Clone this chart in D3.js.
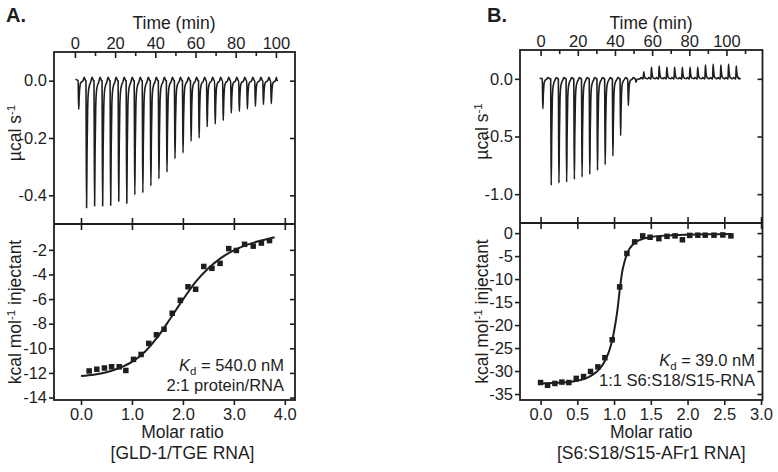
<!DOCTYPE html>
<html><head><meta charset="utf-8">
<script src="https://cdn.jsdelivr.net/npm/d3@7"></script>
<style>
body{margin:0;background:#fff}
svg{display:block}
text{font-family:"Liberation Sans",Arial,Helvetica,sans-serif;fill:#1e1e1e}
</style>
</head><body>
<svg id="c" width="778" height="472"></svg>
<script>
// ---------------- DATA ----------------
const timeTicks = [0, 20, 40, 60, 80, 100];
const timeMinorTicks = [10, 30, 50, 70, 90, 110];

// Panel A raw thermogram: injection times (min) and peak heights (µcal/s)
const injTimesA = [1.6, 5.5, 9.5, 13.5, 17.5, 21.5, 25.5, 29.5, 33.5, 37.5, 41.5, 45.5, 49.5,
  53.5, 57.5, 61.5, 65.5, 69.5, 73.5, 77.5, 81.5, 85.5, 89.5, 93.5, 97.4];
const injPeaksA = [-0.10, -0.443, -0.437, -0.437, -0.435, -0.421, -0.428, -0.398, -0.391, -0.367,
  -0.342, -0.319, -0.272, -0.252, -0.211, -0.200, -0.161, -0.151, -0.139, -0.113, -0.107,
  -0.099, -0.089, -0.083, -0.080];
const rawTicksA = [0.0, -0.2, -0.4];

// Panel A integrated heats
const molarA = [0.16, 0.31, 0.46, 0.60, 0.75, 0.88, 1.03, 1.18, 1.33, 1.48, 1.63, 1.79,
  1.95, 2.10, 2.25, 2.41, 2.57, 2.73, 2.90, 3.05, 3.21, 3.38, 3.54, 3.70];
const heatA = [-11.84, -11.7, -11.6, -11.5, -11.5, -11.8, -10.9, -10.5, -9.6, -8.9, -8.45, -7.15,
  -6.1, -5.0, -5.2, -3.35, -3.5, -3.1, -1.9, -2.05, -1.55, -1.7, -1.45, -1.25];
const fitMolarA = [0.0, 0.25, 0.5, 0.75, 1.0, 1.25, 1.5, 1.75, 2.0, 2.25, 2.5, 2.75, 3.0, 3.25, 3.5, 3.8];
const fitHeatA = [-12.25, -12.15, -11.95, -11.6, -11.1, -10.3, -9.1, -7.6, -6.05, -4.6, -3.5, -2.65, -2.05, -1.6, -1.28, -0.97];
const molarTicksA = [0.0, 1.0, 2.0, 3.0, 4.0];
const heatTicksA = [-2, -4, -6, -8, -10, -12, -14];

// Panel B raw thermogram
const injTimesB = [0.9, 5.4, 9.55, 13.7, 17.85, 22.0, 26.15, 30.3, 34.45, 38.6, 42.75, 46.9,
  51.05, 55.2, 59.35, 63.5, 67.65, 71.8, 75.95, 80.1, 84.25, 88.4, 92.55, 96.7, 100.85, 105.0];
const injPeaksB = [-0.26, -0.923, -0.903, -0.894, -0.871, -0.851, -0.828, -0.793, -0.744, -0.669,
  -0.493, -0.231, -0.03, 0.06, 0.10, 0.11, 0.10, 0.10, 0.10, 0.10, 0.10, 0.12, 0.125, 0.12, 0.125, 0.11];
const rawTicksB = [0.0, -0.5, -1.0];

// Panel B integrated heats
const molarB = [0.0, 0.095, 0.195, 0.29, 0.385, 0.485, 0.585, 0.68, 0.78, 0.875, 0.975, 1.076,
  1.175, 1.28, 1.39, 1.49, 1.61, 1.72, 1.83, 1.93, 2.03, 2.14, 2.24, 2.36, 2.48, 2.59];
const heatB = [-32.5, -33.1, -32.7, -32.4, -32.5, -31.6, -31.2, -30.1, -29.1, -27.1, -23.2, -11.7,
  -4.43, -1.9, -0.6, -0.9, -1.2, -0.7, -0.6, -1.45, -0.5, -0.45, -0.45, -0.45, -0.4, -0.6];
const fitMolarB = [0.0, 0.3, 0.5, 0.6, 0.7, 0.8, 0.875, 0.93, 0.975, 1.02, 1.05, 1.076, 1.11,
  1.15, 1.2, 1.25, 1.3, 1.4, 1.5, 1.75, 2.0, 2.3, 2.6];
const fitHeatB = [-32.7, -32.5, -32.1, -31.7, -30.9, -29.6, -27.8, -25.8, -23.3, -19.5, -16.2, -12.5,
  -8.5, -5.8, -3.7, -2.6, -1.9, -1.2, -0.85, -0.5, -0.35, -0.25, -0.2];
const molarTicksB = [0.0, 0.5, 1.0, 1.5, 2.0, 2.5, 3.0];
const heatTicksB = [0, -5, -10, -15, -20, -25, -30, -35];

// ---------------- DRAW ----------------
const svg = d3.select('#c');
const INK = '#1e1e1e';
const TICK_FS = 16.5, TITLE_FS = 17.5, ANN_FS = 16.5;

// peak template: [offset in min, fraction of peak height]
const shape = [[0, 0], [0.12, 0.45], [0.3, 1], [0.55, 0.55], [0.85, 0.22], [1.2, 0.09], [1.7, 0.04], [2.4, 0.01]];

function buildTrace(times, peaks, tStart, tEnd) {
  const pts = [[tStart, 0.005]];
  times.forEach((t, i) => {
    const p = peaks[i];
    shape.forEach(([dt, f]) => pts.push([t + dt, p * f]));
    const next = i < times.length - 1 ? times[i + 1] : tEnd;
    pts.push([Math.min(next - 0.6, t + 3.0), 0.012]);
    pts.push([next - 0.15, 0.0]);
  });
  pts.push([tEnd, 0.002]);
  return pts;
}

function panel(o) {
  const {L, R, T, M, B} = o.box;
  const g = svg.append('g');
  const xt = d3.scaleLinear().domain(o.timeDom).range([L, R]);
  const yr = d3.scaleLinear().domain(o.rawDom).range([M, T]);
  const xm = d3.scaleLinear().domain(o.molarDom).range([L, R]);
  const yk = d3.scaleLinear().domain(o.heatDom).range([B, M]);

  const styleAxis = sel => {
    sel.select('.domain').remove();
    sel.selectAll('.tick line').attr('stroke', INK).attr('stroke-width', 1.6);
    sel.selectAll('.tick text').attr('font-size', TICK_FS).attr('fill', INK)
      .attr('font-family', '"Liberation Sans",Arial,sans-serif');
  };

  // top time axis
  g.append('g').attr('transform', `translate(0,${T})`)
    .call(d3.axisTop(xt).tickValues(o.timeTicks).tickSize(-6).tickPadding(3).tickFormat(d3.format('d')))
    .call(styleAxis);
  g.append('g').attr('transform', `translate(0,${T})`)
    .call(d3.axisTop(xt).tickValues(o.timeMinor.filter(v => xt(v) <= R - 2)).tickSize(-4).tickFormat(''))
    .call(styleAxis);
  // raw left/right
  g.append('g').attr('transform', `translate(${L},0)`)
    .call(d3.axisLeft(yr).tickValues(o.rawTicks).tickSize(5).tickPadding(2).tickFormat(d => d.toFixed(1)))
    .call(styleAxis);
  g.append('g').attr('transform', `translate(${R},0)`)
    .call(d3.axisRight(yr).tickValues(o.rawTicks).tickSize(-5).tickFormat(''))
    .call(styleAxis);
  // divider ticks
  g.append('g').attr('transform', `translate(0,${M})`)
    .call(d3.axisBottom(xm).tickValues(o.molarTicks).tickSize(-6).tickFormat(''))
    .call(styleAxis);
  g.append('g').attr('transform', `translate(0,${M})`)
    .call(d3.axisTop(xm).tickValues(o.molarTicks).tickSize(-6).tickFormat(''))
    .call(styleAxis);
  // bottom axis
  g.append('g').attr('transform', `translate(0,${B})`)
    .call(d3.axisBottom(xm).tickValues(o.molarTicks).tickSize(5).tickPadding(3).tickFormat(d => d.toFixed(1)))
    .call(styleAxis);
  // heat left/right
  g.append('g').attr('transform', `translate(${L},0)`)
    .call(d3.axisLeft(yk).tickValues(o.heatTicks).tickSize(5).tickPadding(2).tickFormat(d => String(d)))
    .call(styleAxis);
  g.append('g').attr('transform', `translate(${R},0)`)
    .call(d3.axisRight(yk).tickValues(o.heatTicks).tickSize(-5).tickFormat(''))
    .call(styleAxis);

  // frames
  g.append('rect').attr('x', L).attr('y', T).attr('width', R - L).attr('height', B - T)
    .attr('fill', 'none').attr('stroke', INK).attr('stroke-width', 1.8);
  g.append('line').attr('x1', L).attr('x2', R).attr('y1', M).attr('y2', M)
    .attr('stroke', INK).attr('stroke-width', 1.8);

  // thermogram
  const trace = buildTrace(o.injTimes, o.injPeaks, o.traceStart, o.traceEnd);
  g.append('path').datum(trace)
    .attr('d', d3.line().x(d => xt(d[0])).y(d => yr(d[1])).curve(d3.curveMonotoneX))
    .attr('fill', 'none').attr('stroke', INK).attr('stroke-width', 1.6).attr('stroke-linejoin', 'round');

  // fit curve
  const fit = o.fitX.map((v, i) => [v, o.fitY[i]]);
  g.append('path').datum(fit)
    .attr('d', d3.line().x(d => xm(d[0])).y(d => yk(d[1])).curve(d3.curveMonotoneX))
    .attr('fill', 'none').attr('stroke', INK).attr('stroke-width', 2);

  // data squares
  const s = 5.5;
  g.selectAll('rect.pt').data(o.ptX.map((v, i) => [v, o.ptY[i]])).join('rect')
    .attr('class', 'pt')
    .attr('x', d => xm(d[0]) - s / 2).attr('y', d => yk(d[1]) - s / 2)
    .attr('width', s).attr('height', s).attr('fill', INK);

  // texts
  g.append('text').attr('x', o.labelX).attr('y', 22).attr('font-size', 20).attr('font-weight', 'bold').text(o.letter);
  g.append('text').attr('x', o.timeTitleX).attr('y', 29).attr('font-size', TITLE_FS)
    .attr('text-anchor', 'middle').text('Time (min)');

  const yl1 = g.append('text').attr('transform', `translate(${o.ylabX},${(T + M) / 2 - 5}) rotate(-90)`)
    .attr('text-anchor', 'middle').attr('font-size', TITLE_FS);
  yl1.append('tspan').text('µcal s');
  yl1.append('tspan').attr('dy', -6).attr('font-size', 11.5).text('-1');

  const yl2 = g.append('text').attr('transform', `translate(${o.ylabX},${(M + B) / 2}) rotate(-90)`)
    .attr('text-anchor', 'middle').attr('font-size', TITLE_FS);
  yl2.append('tspan').text('kcal mol');
  yl2.append('tspan').attr('dy', -6).attr('font-size', 11.5).text('-1');
  yl2.append('tspan').attr('dy', 6).text(' injectant');

  const cx = (L + R) / 2 + o.xTitleShift;
  g.append('text').attr('x', cx).attr('y', 438).attr('font-size', TITLE_FS).attr('text-anchor', 'middle').text('Molar ratio');
  g.append('text').attr('x', cx).attr('y', 459).attr('font-size', TITLE_FS).attr('text-anchor', 'middle').text(o.sub);

  const kd = g.append('text').attr('x', o.annX).attr('y', o.annY).attr('font-size', ANN_FS).attr('text-anchor', 'end');
  kd.append('tspan').attr('font-style', 'italic').text('K');
  kd.append('tspan').attr('dy', 3.5).attr('font-size', 11.5).text('d');
  kd.append('tspan').attr('dy', -3.5).text(' = ' + o.kd);
  g.append('text').attr('x', o.annX).attr('y', o.annY + 20).attr('font-size', ANN_FS).attr('text-anchor', 'end').text(o.stoich);
}

panel({
  box: {L: 54, R: 295, T: 52, M: 224, B: 400},
  timeDom: [-10.4, 109.5], rawDom: [-0.5, 0.1],
  molarDom: [-0.53, 4.2], heatDom: [-14.2, 0.1],
  timeTicks, timeMinor: timeMinorTicks, rawTicks: rawTicksA,
  molarTicks: molarTicksA, heatTicks: heatTicksA,
  injTimes: injTimesA, injPeaks: injPeaksA, traceStart: 0.3, traceEnd: 100.8,
  fitX: fitMolarA, fitY: fitHeatA, ptX: molarA, ptY: heatA,
  letter: 'A.', labelX: 6, ylabX: 21, xTitleShift: 8, timeTitleX: 174,
  sub: '[GLD-1/TGE RNA]', kd: '540.0 nM', stoich: '2:1 protein/RNA', annX: 284, annY: 371
});

panel({
  box: {L: 520, R: 762.5, T: 50, M: 223, B: 400},
  timeDom: [-11.1, 119.4], rawDom: [-1.25, 0.25],
  molarDom: [-0.28, 3.02], heatDom: [-36.3, 2.2],
  timeTicks, timeMinor: timeMinorTicks, rawTicks: rawTicksB,
  molarTicks: molarTicksB, heatTicks: heatTicksB,
  injTimes: injTimesB, injPeaks: injPeaksB, traceStart: -0.5, traceEnd: 107,
  fitX: fitMolarB, fitY: fitHeatB, ptX: molarB, ptY: heatB,
  letter: 'B.', labelX: 487, ylabX: 488, xTitleShift: 10, timeTitleX: 651,
  sub: '[S6:S18/S15-AFr1 RNA]', kd: '39.0 nM', stoich: '1:1 S6:S18/S15-RNA', annX: 755, annY: 366
});
</script>
</body></html>
